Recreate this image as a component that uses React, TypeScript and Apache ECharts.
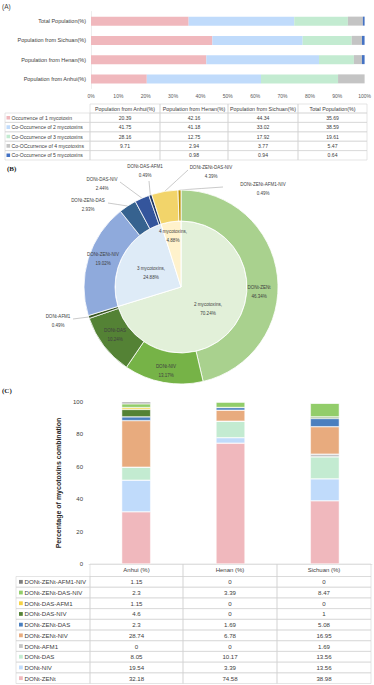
import React, { useEffect, useRef } from 'react';
import * as echarts from 'echarts';

// ---------- DATA ----------
// Panel A
const POP_REGIONS = ['Population from Anhui(%)', 'Population from Henan(%)', 'Population from Sichuan(%)', 'Total Population(%)'];
const OCC_NAMES = ['Occurrence of 1 mycotoxin', 'Co-Occurrence of 2 mycotoxins', 'Co-Occurrence of 3 mycotoxins', 'Co-OCcurrence of 4 mycotoxins', 'Co-Occurrence of 5 mycotoxins'];
const OCC_1 = [20.39, 42.16, 44.34, 35.69];
const OCC_2 = [41.75, 41.18, 33.02, 38.59];
const OCC_3 = [28.16, 12.75, 17.92, 19.61];
const OCC_4 = [9.71, 2.94, 3.77, 5.47];
const OCC_5: (number | null)[] = [null, 0.98, 0.94, 0.64];
const OCC_SERIES = [OCC_1, OCC_2, OCC_3, OCC_4, OCC_5];

// Panel B
const RING_NAMES = ['DONt-ZENt', 'DONt-NIV', 'DONt-DAS', 'DONt-AFM1', 'DONt-ZENt-NIV', 'DONt-ZENt-DAS', 'DONt-DAS-NIV', 'DONt-DAS-AFM1', 'DONt-ZENt-DAS-NIV', 'DONt-ZENt-AFM1-NIV'];
const RING_VALUES = [46.34, 13.17, 10.24, 0.49, 19.02, 2.93, 2.44, 0.49, 4.39, 0.49];
const CORE_NAMES = ['2 mycotoxins', '3 mycotoxins', '4 mycotoxins'];
const CORE_VALUES = [70.24, 24.88, 4.88];

// Panel C
const PROVINCES = ['Anhui (%)', 'Henan (%)', 'Sichuan (%)'];
const COMBOS = ['DONt-ZENt', 'DONt-NIV', 'DONt-DAS', 'DONt-AFM1', 'DONt-ZENt-NIV', 'DONt-ZENt-DAS', 'DONt-DAS-NIV', 'DONt-DAS-AFM1', 'DONt-ZENt-DAS-NIV', 'DONt-ZENt-AFM1-NIV'];
const ANHUI = [32.18, 19.54, 8.05, 0, 28.74, 2.3, 4.6, 1.15, 2.3, 1.15];
const HENAN = [74.58, 3.39, 10.17, 0, 6.78, 1.69, 0, 0, 3.39, 0];
const SICHUAN = [38.98, 13.56, 13.56, 1.69, 16.95, 5.08, 1, 0, 8.47, 0];
const PROVINCE_VALUES = [ANHUI, HENAN, SICHUAN];

// ---------- STYLE ----------
const FONT = 'Liberation Sans, Arial, sans-serif';
const TXT = '#404040';
const BORDER = '#d4d4d4';
const OCC_COLORS = ['#f0b8bd', '#c0dbfb', '#c3ebd1', '#c4c4c4', '#4472c4'];
const RING_COLORS = ['#a9d18e', '#76b347', '#548235', '#385723', '#8faadc', '#36628f', '#34559c', '#1f3864', '#f2d46a', '#bf9000'];
const CORE_COLORS = ['#e2f0d9', '#deebf7', '#fff2cc'];
const COMBO_COLORS = ['#f0b8bd', '#c0dbfb', '#c3ebd1', '#c4c4c4', '#e8ab7e', '#4a7fbf', '#548235', '#f5d142', '#92cd6a', '#7f7f7f'];

const CX = 181;
const CY = 287;
// label centre offsets from pie centre [dx, dy, lineEndDx, lineEndDy]
const RING_LABEL_AT: number[][] = [
  [78, 4.5],
  [-15, 83.5],
  [-66, 47.5],
  [-123, 33.5, -108, 32],
  [-78, -28.5],
  [-93, -82, -73, -84],
  [-79, -103, -61, -105],
  [-36, -116, -32, -106],
  [30, -115.5, 7, -117],
  [82, -98.5, 42, -100],
];
const CORE_LABEL_AT: number[][] = [
  [27, 21.5],
  [-30, -14],
  [-8, -51.5],
];
const RING_OUTSIDE = [false, false, false, true, false, true, true, true, true, true];

function buildGraphics() {
  const g: any[] = [];
  const rect = (x: number, y: number, w: number, h: number) =>
    g.push({ type: 'rect', silent: true, shape: { x, y, width: w, height: h }, style: { fill: 'rgba(0,0,0,0)', stroke: BORDER, lineWidth: 0.6 } });
  const key = (x: number, y: number, s: number, color: string) =>
    g.push({ type: 'rect', silent: true, shape: { x, y: y - s / 2, width: s, height: s }, style: { fill: color } });
  const text = (x: number, y: number, t: string, size: number, align = 'center', extra: any = {}) =>
    g.push({ type: 'text', silent: true, x, y, style: { text: t, fontSize: size, fontFamily: FONT, fill: TXT, align, verticalAlign: 'middle', ...extra } });

  // panel labels
  text(2, 6, '(A)', 6.5, 'left');
  text(7, 169, '(B)', 7, 'left', { fontFamily: 'Liberation Serif, serif', fontWeight: 'bold', fill: '#222' });
  text(2, 391, '(C)', 7, 'left', { fontFamily: 'Liberation Serif, serif', fontWeight: 'bold', fill: '#222' });

  // Table A
  const ea = [5, 90, 160, 228, 298, 367];
  const hA = 104, hhA = 9, rhA = 9.4;
  POP_REGIONS.forEach((name, c) => {
    rect(ea[c + 1], hA, ea[c + 2] - ea[c + 1], hhA);
    text((ea[c + 1] + ea[c + 2]) / 2, hA + hhA / 2, name, 5.3);
  });
  OCC_NAMES.forEach((name, r) => {
    const y = hA + hhA + r * rhA;
    rect(ea[0], y, ea[1] - ea[0], rhA);
    key(6.5, y + rhA / 2, 3.6, OCC_COLORS[r]);
    text(11.5, y + rhA / 2, name, 5.1, 'left');
    OCC_SERIES[r].forEach((v, c) => {
      rect(ea[c + 1], y, ea[c + 2] - ea[c + 1], rhA);
      if (v != null) text((ea[c + 1] + ea[c + 2]) / 2, y + rhA / 2, String(v), 5.1);
    });
  });

  // Table C
  const ec = [16, 90, 183, 277, 371];
  const hC = 564, hhC = 12.5, rhC = 10.7;
  PROVINCES.forEach((name, c) => {
    rect(ec[c + 1], hC, ec[c + 2] - ec[c + 1], hhC);
    text((ec[c + 1] + ec[c + 2]) / 2, hC + hhC / 2, name, 6);
  });
  const order = COMBOS.map((_, i) => i).reverse();
  order.forEach((idx, r) => {
    const y = hC + hhC + r * rhC;
    rect(ec[0], y, ec[1] - ec[0], rhC);
    key(19, y + rhC / 2, 3.8, COMBO_COLORS[idx]);
    text(24.5, y + rhC / 2, COMBOS[idx], 6.1, 'left');
    PROVINCE_VALUES.forEach((vals, c) => {
      rect(ec[c + 1], y, ec[c + 2] - ec[c + 1], rhC);
      text((ec[c + 1] + ec[c + 2]) / 2, y + rhC / 2, String(vals[idx]), 6.1);
    });
  });
  return g;
}

function pieLabelLayout(table: number[][]) {
  return (p: any) => {
    const L = table[p.dataIndex];
    const res: any = { x: CX + L[0], y: CY + L[1], align: 'center', verticalAlign: 'middle' };
    if (L.length > 2 && p.labelLinePoints) {
      const s = p.labelLinePoints[0];
      const e = [CX + L[2], CY + L[3]];
      res.labelLinePoints = [s, [(s[0] + e[0]) / 2, (s[1] + e[1]) / 2], e];
    }
    return res;
  };
}

function buildOption(): any {
  const series: any[] = [];
  OCC_NAMES.forEach((name, i) => {
    series.push({
      type: 'bar', name, xAxisIndex: 0, yAxisIndex: 0, stack: 'pop', barWidth: 9,
      data: OCC_SERIES[i], itemStyle: { color: OCC_COLORS[i] }, silent: true,
    });
  });
  COMBOS.forEach((name, i) => {
    series.push({
      type: 'bar', name, xAxisIndex: 1, yAxisIndex: 1, stack: 'prov', barWidth: 29,
      data: PROVINCE_VALUES.map((vals) => vals[i]),
      itemStyle: { color: COMBO_COLORS[i], borderColor: '#fff', borderWidth: 0.5 }, silent: true,
    });
  });
  series.push({
    type: 'pie', name: 'core', center: [CX, CY], radius: [0, 66], startAngle: 90, clockwise: true,
    avoidLabelOverlap: false, silent: true,
    data: CORE_NAMES.map((n, i) => ({ name: n, value: CORE_VALUES[i], itemStyle: { color: CORE_COLORS[i] } })),
    itemStyle: { borderColor: '#fff', borderWidth: 1 },
    label: { position: 'inside', formatter: '{b},\n{c}%', fontSize: 4.6, lineHeight: 9, color: TXT, fontFamily: FONT },
    labelLine: { show: false },
    labelLayout: pieLabelLayout(CORE_LABEL_AT),
  });
  series.push({
    type: 'pie', name: 'ring', center: [CX, CY], radius: [66, 97], startAngle: 90, clockwise: true,
    avoidLabelOverlap: false, silent: true,
    data: RING_NAMES.map((n, i) => ({
      name: n, value: RING_VALUES[i], itemStyle: { color: RING_COLORS[i] },
      label: { position: RING_OUTSIDE[i] ? 'outside' : 'inside' },
      labelLine: { show: RING_OUTSIDE[i] },
    })),
    itemStyle: { borderColor: '#fff', borderWidth: 0.8 },
    label: { formatter: '{b}\n{c}%', fontSize: 4.5, lineHeight: 9, color: TXT, fontFamily: FONT },
    labelLine: { show: true, length: 8, length2: 8, lineStyle: { color: '#a6a6a6', width: 0.6 } },
    labelLayout: pieLabelLayout(RING_LABEL_AT),
  });

  return {
    animation: false,
    textStyle: { fontFamily: FONT },
    grid: [
      { left: 91, top: 11.5, width: 275, height: 77 },
      { left: 89, top: 402, width: 283, height: 162 },
    ],
    xAxis: [
      {
        gridIndex: 0, type: 'value', min: 0, max: 100, interval: 10,
        axisLabel: { formatter: '{value}%', fontSize: 5, color: '#595959', margin: 5 },
        splitLine: { show: false }, axisLine: { show: false }, axisTick: { show: false },
      },
      {
        gridIndex: 1, type: 'category', data: PROVINCES,
        axisLabel: { show: false }, axisTick: { show: false },
        axisLine: { lineStyle: { color: BORDER, width: 0.6 } },
      },
    ],
    yAxis: [
      {
        gridIndex: 0, type: 'category', data: POP_REGIONS,
        axisLabel: { fontSize: 5.5, color: TXT, margin: 5 },
        axisTick: { show: false }, axisLine: { lineStyle: { color: '#e0e0e0', width: 0.6 } },
      },
      {
        gridIndex: 1, type: 'value', min: 0, max: 100, interval: 20,
        axisLabel: { fontSize: 6, color: TXT, margin: 6 },
        splitLine: { show: false }, axisLine: { show: false }, axisTick: { show: false },
        name: 'Percentage of mycotoxins combination', nameLocation: 'middle', nameGap: 27, nameRotate: 90,
        nameTextStyle: { fontSize: 7, fontWeight: 'bold', color: '#262626' },
      },
    ],
    series,
    graphic: { elements: buildGraphics() },
  };
}

export default function App() {
  const ref = useRef<HTMLDivElement>(null);
  useEffect(() => {
    const chart = echarts.init(ref.current!, undefined, { renderer: 'svg' });
    chart.setOption(buildOption());
    return () => chart.dispose();
  }, []);
  return <div ref={ref} style={{ position: 'absolute', left: 0, top: 0, width: 374, height: 685, background: '#fff' }} />;
}
